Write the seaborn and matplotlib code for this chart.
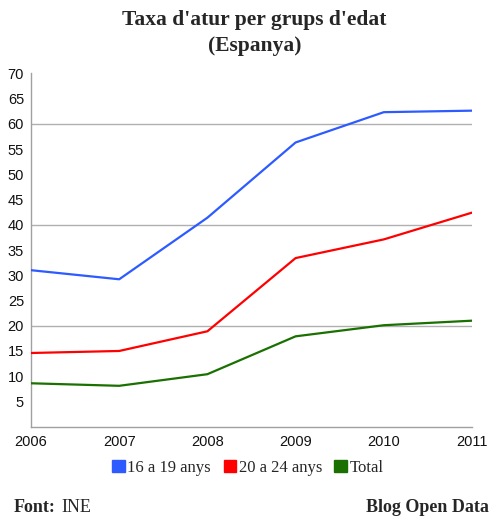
import matplotlib
matplotlib.use("Agg")
import matplotlib.pyplot as plt
from matplotlib.patches import Patch
import seaborn as sns
import pandas as pd

years = [2006, 2007, 2008, 2009, 2010, 2011]
s_16_19 = [31.0, 29.2, 41.4, 56.3, 62.3, 62.6]
s_20_24 = [14.6, 15.0, 18.9, 33.4, 37.1, 42.4]
s_total = [8.6, 8.1, 10.4, 17.9, 20.1, 21.0]
series_names = ["16 a 19 anys", "20 a 24 anys", "Total"]
colors = ["#2d5bff", "#ff0000", "#1a7000"]
y_ticks = [5, 10, 15, 20, 25, 30, 35, 40, 45, 50, 55, 60, 65, 70]

rows = []
for name, vals in zip(series_names, [s_16_19, s_20_24, s_total]):
    for y, v in zip(years, vals):
        rows.append({"year": y, "value": v, "serie": name})
df = pd.DataFrame(rows)

sns.set_style("white")
fig = plt.figure(figsize=(5.04, 5.29), dpi=100)
ax = fig.add_axes([31/504, 1-426.7/529, (472-31)/504, (426.7-73.3)/529])

sns.lineplot(data=df, x="year", y="value", hue="serie", palette=dict(zip(series_names, colors)),
             linewidth=1.6, ax=ax, legend=False, zorder=3)

ax.set_xlim(2006, 2011)
ax.set_ylim(0, 70)
ax.set_yticks(y_ticks)
ax.set_xticks(years)
ax.set_xticklabels([str(y) for y in years])
for g in [20, 40, 60]:
    ax.axhline(g, color="#b0b0b0", linewidth=1.0, zorder=1)
ax.set_xlabel("")
ax.set_ylabel("")
for side in ["top", "right"]:
    ax.spines[side].set_visible(False)
for side in ["left", "bottom"]:
    ax.spines[side].set_color("#a0a0a0")
    ax.spines[side].set_linewidth(1.0)
ax.tick_params(axis="both", direction="out", length=3, width=1, color="#a0a0a0",
               labelsize=10.5, labelcolor="#111111", pad=2)
for lbl in ax.get_xticklabels() + ax.get_yticklabels():
    lbl.set_family("Liberation Sans")
ax.tick_params(axis="x", pad=3)

fig.text(0.505, 1-20/529, "Taxa d'atur per grups d'edat", ha="center", va="center",
         fontsize=15.5, fontweight="bold", family="Liberation Serif")
fig.text(0.505, 1-46/529, "(Espanya)", ha="center", va="center",
         fontsize=15.5, fontweight="bold", family="Liberation Serif")

handles = [Patch(facecolor=c, edgecolor=c) for c in colors]
fig.legend(handles, series_names, loc="center", bbox_to_anchor=(0.492, 1-468/529), ncol=3,
           frameon=False, prop={"family": "Liberation Serif", "size": 12},
           handlelength=0.75, handleheight=0.75, handletextpad=0.15, columnspacing=0.75, borderpad=0)

fig.text(14/504, 1-507/529, "Font:", ha="left", va="center", fontsize=13, fontweight="bold",
         family="Liberation Serif")
fig.text(61/504, 1-507/529, "INE", ha="left", va="center", fontsize=13, family="Liberation Serif")
fig.text(489/504, 1-507/529, "Blog Open Data", ha="right", va="center", fontsize=13,
         fontweight="bold", family="Liberation Serif")

fig.savefig("out.png", dpi=100)
